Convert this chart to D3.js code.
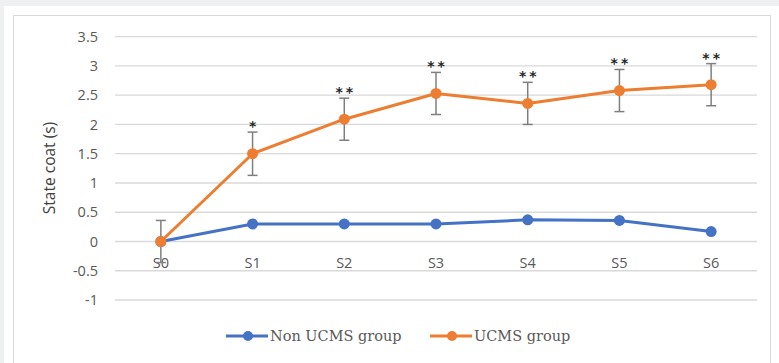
<!DOCTYPE html>
<html>
<head>
<meta charset="utf-8">
<script src="https://cdn.jsdelivr.net/npm/d3@7/dist/d3.min.js"></script>
<style>
  html, body { margin: 0; padding: 0; background: #eef0f2; }
  svg { display: block; }
</style>
</head>
<body>
<svg id="chart" width="779" height="363"></svg>
<script>
// Sessions and mean state-coat scores per group
const categories = ["S0", "S1", "S2", "S3", "S4", "S5", "S6"];
const nonUcms = [0, 0.30, 0.30, 0.30, 0.37, 0.36, 0.17];
const ucms = [0, 1.50, 2.09, 2.53, 2.36, 2.58, 2.68];
const ucmsErr = [0.36, 0.37, 0.36, 0.36, 0.36, 0.36, 0.36];
const significance = ["", "*", "**", "**", "**", "**", "**"];
const yTicks = [-1, -0.5, 0, 0.5, 1, 1.5, 2, 2.5, 3, 3.5];
const seriesNames = ["Non UCMS group", "UCMS group"];

const blue = "#4472c4", orange = "#ed7d31";
const sans = "'Open Sans', Lato, sans-serif";
const svg = d3.select("#chart");

// Panel background and frame
svg.append("rect").attr("x", 4).attr("y", 6).attr("width", 775).attr("height", 357).attr("fill", "#ffffff");
svg.append("rect").attr("x", 13.5).attr("y", 15.5).attr("width", 757).attr("height", 350)
  .attr("fill", "#ffffff").attr("stroke", "#d9d9d9").attr("stroke-width", 1);

const x = d3.scaleBand().domain(categories).range([115, 757]);
const y = d3.scaleLinear().domain([-1, 3.5]).range([300, 36.7]);
const cx = d => x(d) + x.bandwidth() / 2;

// Horizontal gridlines
svg.append("g").selectAll("line").data(yTicks).join("line")
  .attr("x1", 115).attr("x2", 757)
  .attr("y1", d => y(d)).attr("y2", d => y(d))
  .attr("stroke", "#d9d9d9").attr("stroke-width", 1.3);

// Y axis tick labels
const yAxis = d3.axisLeft(y).tickValues(yTicks).tickSize(0).tickPadding(0)
  .tickFormat(d => String(d));
svg.append("g").attr("transform", "translate(98,0)").call(yAxis)
  .call(g => g.select(".domain").remove())
  .selectAll("text")
  .attr("font-family", sans).attr("font-size", 14.5)
  .attr("fill", "#595959");

// Category labels just below the zero line
const xAxis = d3.axisBottom(x).tickSize(0).tickPadding(0);
svg.append("g").attr("transform", `translate(0,${y(0) + 24})`).call(xAxis)
  .call(g => g.select(".domain").remove())
  .selectAll("text")
  .attr("dy", "0.2em")
  .attr("font-family", sans).attr("font-size", 14.5)
  .attr("fill", "#595959");

// Y axis title
svg.append("text")
  .attr("transform", `translate(55,168) rotate(-90)`)
  .attr("text-anchor", "middle")
  .attr("font-family", sans).attr("font-size", 15.5)
  .attr("fill", "#404040")
  .text("State coat (s)");

const line = d3.line().x((d, i) => cx(categories[i])).y(d => y(d));

// Non UCMS series
svg.append("path").datum(nonUcms).attr("d", line)
  .attr("fill", "none").attr("stroke", blue).attr("stroke-width", 3).attr("stroke-linejoin", "round");
svg.append("g").selectAll("circle").data(nonUcms).join("circle")
  .attr("cx", (d, i) => cx(categories[i])).attr("cy", d => y(d)).attr("r", 5.5).attr("fill", blue);

// UCMS series
svg.append("path").datum(ucms).attr("d", line)
  .attr("fill", "none").attr("stroke", orange).attr("stroke-width", 3).attr("stroke-linejoin", "round");

// Error bars for the UCMS group
const eb = svg.append("g").attr("stroke", "#7f7f7f").attr("stroke-width", 1.5);
ucms.forEach((v, i) => {
  const px = cx(categories[i]);
  const top = y(v + ucmsErr[i]), bot = y(v - ucmsErr[i]);
  eb.append("line").attr("x1", px).attr("x2", px).attr("y1", top).attr("y2", bot);
  eb.append("line").attr("x1", px - 5).attr("x2", px + 5).attr("y1", top).attr("y2", top);
  eb.append("line").attr("x1", px - 5).attr("x2", px + 5).attr("y1", bot).attr("y2", bot);
});

svg.append("g").selectAll("circle").data(ucms).join("circle")
  .attr("cx", (d, i) => cx(categories[i])).attr("cy", d => y(d)).attr("r", 5.5).attr("fill", orange);

// Significance markers above the error bars
svg.append("g").selectAll("text").data(significance).join("text")
  .attr("x", (d, i) => cx(categories[i]) + 1.5)
  .attr("y", (d, i) => y(ucms[i] + ucmsErr[i]) - 1)
  .attr("text-anchor", "middle")
  .attr("font-family", "'DejaVu Sans', sans-serif").attr("font-size", 14).attr("font-weight", "bold")
  .attr("letter-spacing", 3)
  .attr("fill", "#262626")
  .text(d => d);

// Legend
const legend = svg.append("g");
const legendItems = [
  { name: seriesNames[0], color: blue, x0: 226 },
  { name: seriesNames[1], color: orange, x0: 430 }
];
legendItems.forEach(it => {
  const ly = 336;
  legend.append("line").attr("x1", it.x0).attr("x2", it.x0 + 42).attr("y1", ly).attr("y2", ly)
    .attr("stroke", it.color).attr("stroke-width", 3);
  legend.append("circle").attr("cx", it.x0 + 22).attr("cy", ly).attr("r", 5).attr("fill", it.color);
  legend.append("text").attr("x", it.x0 + 44).attr("y", ly + 5)
    .attr("font-family", "'DejaVu Serif', 'Liberation Serif', serif").attr("font-size", 14.5)
    .attr("fill", "#595959")
    .text(it.name);
});
</script>
</body>
</html>
